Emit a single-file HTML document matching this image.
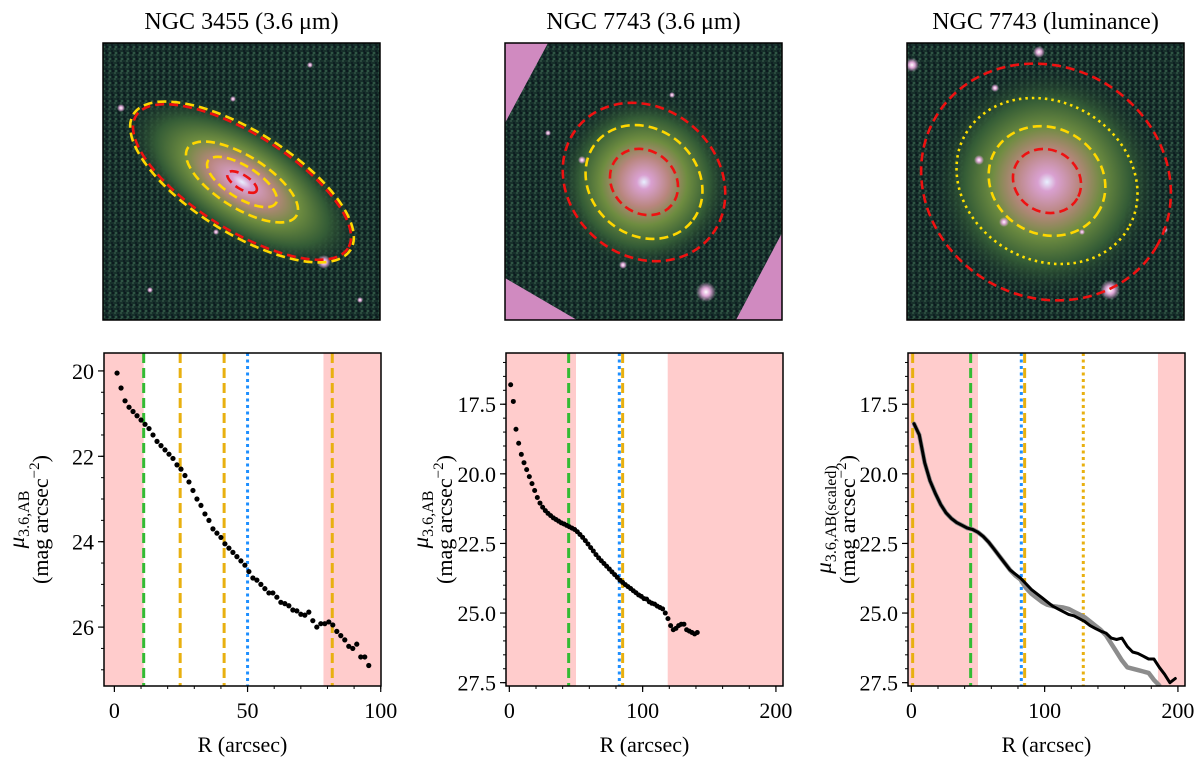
<!DOCTYPE html>
<html><head><meta charset="utf-8">
<style>
html,body{margin:0;padding:0;background:#fff;}
svg text{font-family:"Liberation Serif","DejaVu Serif",serif;fill:#000;}
</style></head>
<body>
<svg id="fig" width="1200" height="765" viewBox="0 0 1200 765" xmlns="http://www.w3.org/2000/svg">
<defs>
<radialGradient id="gal" cx="50%" cy="50%" r="50%">
<stop offset="0" stop-color="#e8f0ff"/>
<stop offset="0.08" stop-color="#d9a0d0"/>
<stop offset="0.28" stop-color="#b8867e"/>
<stop offset="0.48" stop-color="#6e8c40"/>
<stop offset="0.72" stop-color="#345c36"/>
<stop offset="1" stop-color="#18302c" stop-opacity="0"/>
</radialGradient>
<radialGradient id="star" cx="50%" cy="50%" r="50%">
<stop offset="0" stop-color="#ffffff"/>
<stop offset="0.4" stop-color="#e0a8d8"/>
<stop offset="1" stop-color="#e0a8d8" stop-opacity="0"/>
</radialGradient>
<pattern id="noise" width="6" height="6" patternUnits="userSpaceOnUse">
<rect width="6" height="6" fill="#17302b"/>
<rect x="0" y="0" width="2" height="2" fill="#2a4a3e"/>
<rect x="3" y="2" width="2" height="2" fill="#0e1f22"/>
<rect x="1" y="4" width="2" height="2" fill="#2f5544"/>
<rect x="4" y="4" width="2" height="2" fill="#0c1a1e"/>
</pattern>
</defs>
<g id="root"></g>
</svg>
<script>
// ---------- data ----------
const p1R = [1,2.5,4,5.5,7,8.5,10,11.5,13,14.5,16,17.5,19,20.5,22,23.5,25,26.5,28,29.5,31,32.5,34,35.5,37,38.5,40,41.5,43,44.5,46,47.5,49,50.5,52,53.5,55,56.5,58,59.5,61,62.5,64,65.5,67,68.5,70,71.5,73,74.5,76,77.5,79,80.5,82,83.5,85,86.5,88,89.5,91,92.5,94,95.5];
const p1Mu = [20.05,20.4,20.7,20.85,20.95,21.05,21.15,21.25,21.35,21.5,21.65,21.75,21.85,21.95,22.05,22.2,22.3,22.45,22.6,22.8,23.0,23.15,23.35,23.5,23.7,23.8,23.9,24.05,24.15,24.25,24.35,24.45,24.55,24.7,24.85,24.9,25.0,25.1,25.2,25.2,25.3,25.42,25.45,25.5,25.6,25.62,25.7,25.72,25.65,25.85,26.0,25.92,25.92,25.88,25.95,26.1,26.2,26.3,26.45,26.5,26.4,26.7,26.7,26.9];
const p2R = [1,3,5,7,9,11,13,15,17,19,21,23,25,27,29,31,33,35,37,39,41,43,45,47,49,51,53,55,57,59,61,63,65,67,69,71,73,75,77,79,81,83,85,87,89,91,93,95,97,99,101,103,105,107,109,111,113,115,117,119,121,123,125,127,129,131,133,135,137,139,141];
const p2Mu = [16.8,17.4,18.4,18.9,19.3,19.6,19.85,20.1,20.35,20.6,20.85,21.05,21.2,21.32,21.42,21.5,21.58,21.64,21.7,21.76,21.8,21.85,21.9,21.95,22.0,22.08,22.18,22.28,22.4,22.52,22.65,22.77,22.9,23.02,23.12,23.22,23.32,23.42,23.52,23.62,23.72,23.82,23.9,23.98,24.05,24.12,24.2,24.27,24.35,24.4,24.48,24.5,24.6,24.65,24.68,24.75,24.8,24.85,25.0,25.2,25.45,25.6,25.55,25.45,25.4,25.4,25.6,25.65,25.7,25.75,25.7];
const p3R = [2,6,10,14,18,22,26,30,34,38,42,46,50,54,58,62,66,70,74,78,82,86,90,94,98,102,106,110,114,118,122,126,130,134,138,142,146,150,154,158,162,166,170,174,178,182,186,190,194,198];
const p3Black = [18.2,18.6,19.6,20.25,20.7,21.1,21.4,21.6,21.75,21.85,21.95,22.0,22.1,22.25,22.45,22.7,22.95,23.2,23.45,23.6,23.75,23.95,24.15,24.3,24.45,24.6,24.75,24.85,24.95,25.05,25.1,25.2,25.3,25.45,25.55,25.65,25.72,25.9,25.95,25.9,26.2,26.4,26.45,26.55,26.65,26.65,26.95,27.2,27.5,27.35];
const p3GrayR = [2,6,10,14,18,22,26,30,34,38,42,46,50,54,58,62,66,70,74,78,82,86,90,94,98,102,106,110,114,118,122,126,130,134,138,142,146,150,154,158,162,166,170,174,178,182,186];
const p3Gray = [18.2,18.6,19.6,20.25,20.7,21.1,21.4,21.6,21.75,21.85,21.95,22.0,22.1,22.25,22.45,22.7,22.95,23.2,23.45,23.65,23.8,24.1,24.3,24.45,24.6,24.7,24.75,24.78,24.8,24.85,24.95,25.05,25.15,25.3,25.45,25.6,25.8,26.1,26.4,26.7,26.95,27.0,27.05,27.1,27.15,27.4,27.6];
const p1Ticks = [0,50,100];
const p1YTicks = [20,22,24,26];
const p23Ticks = [0,100,200];
const p23YTicks = ["17.5","20.0","22.5","25.0","27.5"];
const p1Shade = [[-10,11],[78.5,110]];
const p2Shade = [[-10,50],[118.8,220]];
const p3Shade = [[-10,50],[185,220]];
const p1Lines = [{r:11,c:"green",s:"dash"},{r:24.7,c:"orange",s:"dash"},{r:41.2,c:"orange",s:"dash"},{r:81.8,c:"orange",s:"dash"},{r:50,c:"blue",s:"dot"}];
const p2Lines = [{r:44.5,c:"green",s:"dash"},{r:82.5,c:"blue",s:"dot"},{r:85,c:"orange",s:"dash"}];
const p3Lines = [{r:1,c:"orange",s:"dash"},{r:44.5,c:"green",s:"dash"},{r:82.5,c:"blue",s:"dot"},{r:85,c:"orange",s:"dash"},{r:129,c:"orange",s:"dot"}];

const COL = {green:"#33bb33", orange:"#e8b010", blue:"#1e8fff"};
const NS = "http://www.w3.org/2000/svg";
const root = document.getElementById('root');
function el(tag, attrs, parent){
  const e = document.createElementNS(NS, tag);
  for (const k in attrs) e.setAttribute(k, attrs[k]);
  (parent||root).appendChild(e);
  return e;
}

// ---------- top images ----------
function image(x0, title, tname, ellipses, extras){
  const g = el('g', {});
  
  
  const t = el('text', {x:x0+138.5, y:29, 'font-size':'24', 'text-anchor':'middle'});
  t.textContent = title;
  
  
  el('rect', {x:x0, y:43, width:277, height:277, fill:'url(#noise)'}, g);
  extras(g);
  el('rect', {x:x0, y:43, width:277, height:277, fill:'none', stroke:'#000', 'stroke-width':1.5}, g);
  ellipses.forEach(e=>{
    const ee = el('ellipse', {cx:e.cx, cy:e.cy, rx:e.a, ry:e.b, transform:`rotate(${e.rot} ${e.cx} ${e.cy})`, fill:'none', stroke:e.col, 'stroke-width':2.6, 'stroke-dasharray': e.dot ? '2.5 4' : '9 5'}, g);
    
    
  });
}
function stars(g, list){ list.forEach(s=>el('circle',{cx:s[0],cy:s[1],r:s[2],fill:'url(#star)'},g)); }

image(103, 'NGC 3455 (3.6 \u03bcm)', 'ngc3455', [
  {cx:242,cy:182,a:128,b:51,rot:32,col:'#ffd700'},
  {cx:242,cy:182,a:125,b:48,rot:32,col:'#ee1111'},
  {cx:242,cy:182,a:64,b:26,rot:32,col:'#ffd700'},
  {cx:242,cy:182,a:40,b:16,rot:32,col:'#ffd700'},
  {cx:242,cy:182,a:17,b:7,rot:32,col:'#ee1111'}
], g=>{
  el('ellipse',{cx:242,cy:182,rx:135,ry:62,transform:'rotate(32 242 182)',fill:'url(#gal)'},g);
  stars(g,[[324,262,7],[121,108,4],[216,232,3],[310,65,3],[150,290,3],[360,300,3],[233,99,3]]);
});
image(505, 'NGC 7743 (3.6 \u03bcm)', 'ngc7743-ir', [
  {cx:644,cy:182,a:86,b:74,rot:40,col:'#ee1111'},
  {cx:644,cy:182,a:62,b:53,rot:40,col:'#ffd700'},
  {cx:644,cy:182,a:36,b:31,rot:40,col:'#ee1111'}
], g=>{
  el('circle',{cx:644,cy:182,r:90,fill:'url(#gal)'},g);
  el('polygon',{points:'505,43 548,43 505,123',fill:'#d08ac0'},g);
  el('polygon',{points:'505,278 577,320 505,320',fill:'#d08ac0'},g);
  el('polygon',{points:'782,233 736,320 782,320',fill:'#d08ac0'},g);
  stars(g,[[706,292,10],[582,160,4],[623,265,4],[672,95,3],[548,133,3]]);
});
image(907, 'NGC 7743 (luminance)', 'ngc7743-lum', [
  {cx:1046,cy:182,a:128,b:115,rot:30,col:'#ee1111'},
  {cx:1047,cy:181,a:94,b:79,rot:30,col:'#ffe000',dot:true},
  {cx:1047,cy:181,a:60,b:53,rot:30,col:'#ffd700'},
  {cx:1047,cy:181,a:35,b:31,rot:30,col:'#ee1111'}
], g=>{
  el('circle',{cx:1047,cy:182,r:115,fill:'url(#gal)'},g);
  stars(g,[[1110,290,10],[912,65,7],[1039,52,6],[979,160,5],[1004,222,5],[995,88,4],[1165,230,3],[1082,232,3]]);
});

// ---------- bottom charts ----------
function chart(opt){
  const {L,R,T,B,xmin,xmax,ymin,ymax} = opt;
  const X = v => L + (v - xmin) / (xmax - xmin) * (R - L);
  const Y = v => T + (v - ymin) / (ymax - ymin) * (B - T);
  const g = el('g', {});
  
  
  const cid = opt.name + '-clip';
  const cp = el('clipPath', {id:cid}, g);
  el('rect', {x:L, y:T, width:R-L, height:B-T}, cp);
  const pg = el('g', {'clip-path':`url(#${cid})`}, g);
  opt.shade.forEach(s=>{
    const r = el('rect', {x:X(s[0]), y:T, width:X(s[1])-X(s[0]), height:B-T, fill:'#ffcccc'}, pg);
    
    
  });
  opt.lines.forEach(l=>{
    const ln = el('line', {x1:X(l.r), x2:X(l.r), y1:T, y2:B, stroke:COL[l.c], 'stroke-width':3, 'stroke-dasharray': l.s==='dot' ? '3 3.5' : '10 5'}, pg);
    
    
  });
  opt.draw(pg, X, Y);
  el('rect', {x:L, y:T, width:R-L, height:B-T, fill:'none', stroke:'#000', 'stroke-width':1.5}, g);
  for (let v = opt.xminor[0]; v <= opt.xminor[1]; v += opt.xminor[2]) {
    el('line', {x1:X(v), x2:X(v), y1:B, y2:B+3, stroke:'#000', 'stroke-width':1}, g);
  }
  opt.xticks.forEach(v=>{
    el('line', {x1:X(v), x2:X(v), y1:B, y2:B+6, stroke:'#000', 'stroke-width':1.2}, g);
    const t = el('text', {x:X(v), y:B+32, 'font-size':'22', 'text-anchor':'middle'}, g);
    t.textContent = v;
    
    
  });
  for (let v = opt.yminor[0]; v <= opt.yminor[1] + 1e-6; v += opt.yminor[2]) {
    el('line', {x1:L-3, x2:L, y1:Y(v), y2:Y(v), stroke:'#000', 'stroke-width':1}, g);
  }
  opt.yticks.forEach(v=>{
    const n = parseFloat(v);
    el('line', {x1:L-6, x2:L, y1:Y(n), y2:Y(n), stroke:'#000', 'stroke-width':1.2}, g);
    const t = el('text', {x:L-10, y:Y(n)+8, 'font-size':'22', 'text-anchor':'end'}, g);
    t.textContent = v;
    
    
  });
  const xl = el('text', {x:(L+R)/2, y:752, 'font-size':'22', 'text-anchor':'middle'}, g);
  xl.textContent = 'R (arcsec)';
  
  
  const yc = (T+B)/2;
  const yl = el('text', {x:0, y:0, 'font-size':'23', 'text-anchor':'middle', transform:`translate(${opt.ylx} ${yc}) rotate(-90)`}, g);
  
  
  const mu = el('tspan', {'font-style':'italic'}, yl); mu.textContent = '\u03bc';
  const sub = el('tspan', {'font-size':'16', dy:'5'}, yl); sub.textContent = opt.sub;
  const yl2 = el('text', {x:0, y:0, 'font-size':'22', 'text-anchor':'middle', transform:`translate(${opt.ylx+24} ${yc}) rotate(-90)`}, g);
  
  
  yl2.textContent = '(mag arcsec';
  const sup = el('tspan', {'font-size':'15', dy:'-9'}, yl2); sup.textContent = '\u22122';
  const cl = el('tspan', {dy:'9'}, yl2); cl.textContent = ')';
}

function dots(pg, X, Y, rs, ms, r, name){
  rs.forEach((v,i)=>{
    const c = el('circle', {cx:X(v), cy:Y(ms[i]), r:r, fill:'#000'}, pg);
    
    
  });
}
function line(pg, X, Y, rs, ms, col, w, name){
  const d = rs.map((v,i)=>(i?'L':'M')+X(v).toFixed(1)+' '+Y(ms[i]).toFixed(1)).join(' ');
  const p = el('path', {d:d, fill:'none', stroke:col, 'stroke-width':w, 'stroke-linejoin':'round', 'stroke-linecap':'round'}, pg);
  
  
}

chart({name:'ngc3455-profile', L:104, R:381, T:353, B:686, xmin:-3.9, xmax:100.1, ymin:19.58, ymax:27.38,
  xticks:p1Ticks, xminor:[0,100,10], yticks:p1YTicks, yminor:[20,27,0.5], shade:p1Shade, lines:p1Lines,
  ylx:24, sub:'3.6,AB',
  draw:(pg,X,Y)=>dots(pg,X,Y,p1R,p1Mu,2.6,'profile-point')});
chart({name:'ngc7743-ir-profile', L:506, R:783, T:353, B:686, xmin:-2.5, xmax:205.3, ymin:15.66, ymax:27.62,
  xticks:p23Ticks, xminor:[0,200,20], yticks:p23YTicks, yminor:[16,27.5,0.5], shade:p2Shade, lines:p2Lines,
  ylx:428, sub:'3.6,AB',
  draw:(pg,X,Y)=>dots(pg,X,Y,p2R,p2Mu,2.5,'profile-point')});
chart({name:'ngc7743-lum-profile', L:908, R:1185, T:353, B:686, xmin:-2.5, xmax:205.3, ymin:15.66, ymax:27.62,
  xticks:p23Ticks, xminor:[0,200,20], yticks:p23YTicks, yminor:[16,27.5,0.5], shade:p3Shade, lines:p3Lines,
  ylx:831, sub:'3.6,AB(scaled)',
  draw:(pg,X,Y)=>{ line(pg,X,Y,p3GrayR,p3Gray,'#8c8c8c',4.5,'ir-profile-line'); line(pg,X,Y,p3R,p3Black,'#000',3,'luminance-profile-line'); }});
</script>
</body></html>
